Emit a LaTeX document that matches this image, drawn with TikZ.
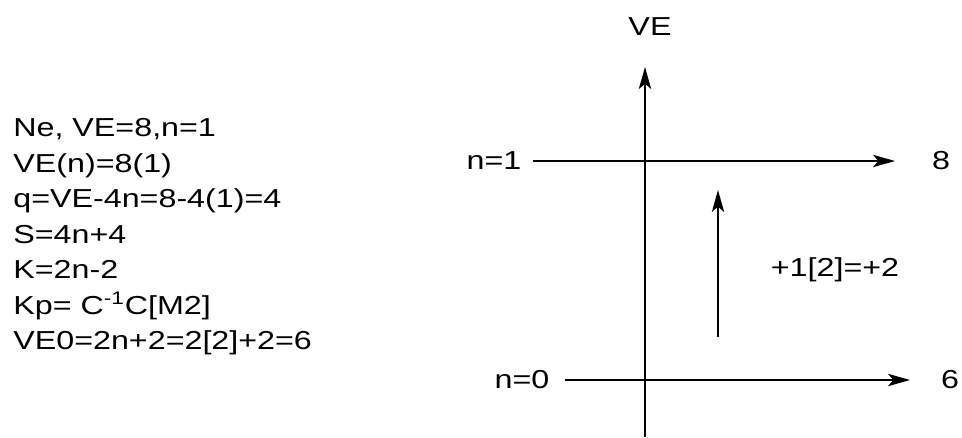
\documentclass[tikz,border=0pt]{standalone}
\usepackage{fontspec}
\setmainfont[FakeStretch=1.24]{Liberation Sans}
\usepackage{tikz}
\usetikzlibrary{arrows.meta}
\usetikzlibrary{backgrounds,positioning}
\pgfdeclarelayer{edgelayer}
\pgfdeclarelayer{nodelayer}
\pgfsetlayers{background,edgelayer,nodelayer,main}
\tikzstyle{none}=[inner sep=0mm]
\tikzstyle{lbl}=[inner sep=0mm,font=\fontsize{14.8}{20.2}\selectfont]
\tikzstyle{notes}=[lbl,align=left,anchor=north west]
\tikzstyle{axis}=[line width=1.1pt,-{Stealth[length=12.5pt,width=7pt,inset=3pt]}]
\tikzstyle{level}=[axis]

\begin{document}
\begin{tikzpicture}
	\useasboundingbox (0, 0) rectangle (19.24, -8.74);
	\begin{pgfonlayer}{nodelayer}
		\node [style=notes] (calc) at (0.26, -2.36) {Ne, VE=8,n=1\\VE(n)=8(1)\\q=VE-4n=8-4(1)=4\\S=4n+4\\K=2n-2\\Kp= C\textsuperscript{-1}C[M2]\\VE0=2n+2=2[2]+2=6};
		\node [style=lbl] (ve) at (13.0, -0.54) {VE};
		\node [style=none] (ab) at (12.9, -8.74) {};
		\node [style=none] (at) at (12.9, -1.34) {};
		\node [style=lbl] (n1) at (9.88, -3.22) {n=1};
		\node [style=none] (n1s) at (10.66, -3.22) {};
		\node [style=none] (n1e) at (17.9, -3.22) {};
		\node [style=lbl] (e8) at (18.82, -3.22) {8};
		\node [style=lbl] (n0) at (10.44, -7.6) {n=0};
		\node [style=none] (n0s) at (11.3, -7.6) {};
		\node [style=none] (n0e) at (18.2, -7.6) {};
		\node [style=lbl] (e6) at (19.0, -7.6) {6};
		\node [style=none] (ub) at (14.36, -6.74) {};
		\node [style=none] (ut) at (14.36, -3.8) {};
		\node [style=lbl] (step) at (16.7, -5.4) {+1[2]=+2};
	\end{pgfonlayer}
	\begin{pgfonlayer}{edgelayer}
		\draw [style=axis] (ab.center) to (at.center);
		\draw [style=level] (n1s.center) to (n1e.center);
		\draw [style=level] (n0s.center) to (n0e.center);
		\draw [style=axis] (ub.center) to (ut.center);
	\end{pgfonlayer}
\end{tikzpicture}
\end{document}
